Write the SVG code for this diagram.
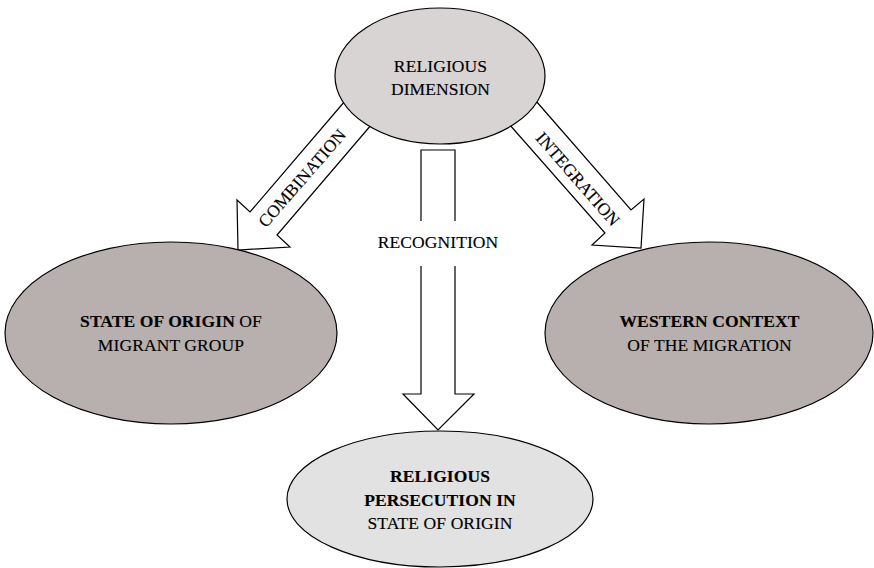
<svg xmlns="http://www.w3.org/2000/svg" width="874" height="568" viewBox="0 0 874 568">
<style>
text{font-family:"Liberation Serif","Times New Roman",serif;font-size:17.5px;fill:#000;text-anchor:middle;letter-spacing:0.1px;stroke:#000;stroke-width:0.15}
.b{font-weight:bold}
.arrow{fill:#fff;stroke:#000;stroke-width:1.2;stroke-linejoin:miter}
.node{stroke:#000;stroke-width:1.2}
</style>
<rect width="874" height="568" fill="#fff"/>
<g id="connectors">
  <g id="combination">
    <polygon class="arrow" points="345,101 250,212 237,200 238,250 290,247 277,235 372,124"/>
    <text transform="translate(302,178) rotate(-49)" y="6">COMBINATION</text>
  </g>
  <g id="integration">
    <polygon class="arrow" points="536,101 631,210 644,199 641,248 592,245 605,233 509,124"/>
    <text transform="translate(578,179) rotate(49)" y="6">INTEGRATION</text>
  </g>
  <g id="recognition">
    <polygon class="arrow" points="421,150 421,394 403,394 438,430 474,394 455,394 455,150"/>
    <rect x="414" y="221" width="48" height="45" fill="#fff"/>
    <text x="438" y="248">RECOGNITION</text>
  </g>
</g>
<g id="religious-dimension">
  <ellipse class="node" cx="440" cy="76" rx="105" ry="68" fill="#d8d4d3"/>
  <text x="440.5" y="72">RELIGIOUS</text>
  <text x="440.5" y="95">DIMENSION</text>
</g>
<g id="state-of-origin">
  <ellipse class="node" cx="171" cy="333" rx="166" ry="91" fill="#b8b0ae"/>
  <text x="171" y="327"><tspan class="b">STATE OF ORIGIN</tspan> OF</text>
  <text x="171" y="351">MIGRANT GROUP</text>
</g>
<g id="western-context">
  <ellipse class="node" cx="709" cy="333" rx="164" ry="91" fill="#b8b0ae"/>
  <text class="b" x="709.5" y="327">WESTERN CONTEXT</text>
  <text x="709.5" y="351">OF THE MIGRATION</text>
</g>
<g id="religious-persecution">
  <ellipse class="node" cx="440" cy="499" rx="153" ry="68" fill="#e2e2e2"/>
  <text class="b" x="440" y="482">RELIGIOUS</text>
  <text class="b" x="440" y="506">PERSECUTION IN</text>
  <text x="440" y="529">STATE OF ORIGIN</text>
</g>
</svg>
